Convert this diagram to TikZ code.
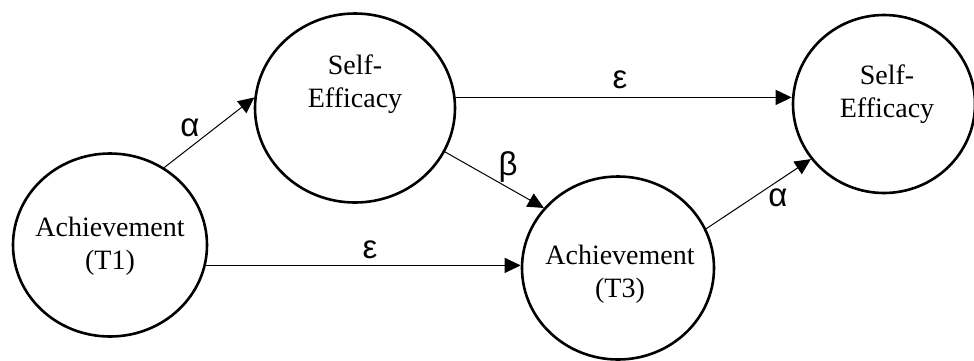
\documentclass[tikz,border=0pt]{standalone}
\usepackage{fontspec}
\setmainfont{Liberation Serif}
\newfontfamily\grk{Liberation Sans}
\usetikzlibrary{arrows.meta,shapes.geometric}
\begin{document}
\begin{tikzpicture}[x=0.5pt,y=-0.5pt,
  var/.style={draw, ellipse, line width=1.3pt, inner sep=0pt},
  lbl/.style={font=\fontsize{14}{16.5}\selectfont, align=center, inner sep=0pt},
  pth/.style={line width=0.5pt, -{Triangle[length=8pt,width=7.5pt]}},
  coef/.style={font=\grk\fontsize{16.5}{16.5}\selectfont, inner sep=0pt}]
\useasboundingbox (0,0) rectangle (974,360);
\node[var, minimum width=97pt, minimum height=91.5pt] (t1) at (110,245) {};
\node[var, minimum width=100pt, minimum height=94.5pt] (se1) at (355,108) {};
\node[var, minimum width=96pt, minimum height=91.5pt] (t3) at (618,268) {};
\node[var, minimum width=91pt, minimum height=89pt] (se2) at (884,104) {};
\node[lbl] (t1t) at (110,246.5) {Achievement\\(T1)};
\node[lbl] (se1t) at (355,84) {Self-\\Efficacy};
\node[lbl] (t3t) at (620,274.5) {Achievement\\(T3)};
\node[lbl] (se2t) at (887,94) {Self-\\Efficacy};
\draw[pth] (t1.55) -- (se1.174);
\draw[pth] (se1.6) -- (se1.6 -| se2.west);
\draw[pth] (se1.-26) -- (t3.141);
\draw[pth] (t1.-12) -- (t1.-12 -| t3.west);
\draw[pth] (t3.24) -- (se2.217);
\node[coef] (a1) at (190,128) {α};
\node[coef] (e1) at (620,80) {ε};
\node[coef] (b1) at (508,167) {β};
\node[coef] (e2) at (370,250) {ε};
\node[coef] (a2) at (778,198) {α};
\end{tikzpicture}
\end{document}
